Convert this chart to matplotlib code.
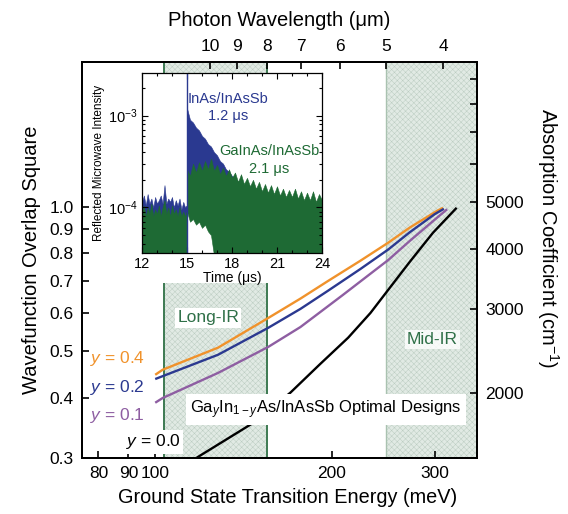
import matplotlib
matplotlib.use("Agg")
import matplotlib.pyplot as plt
import matplotlib.patches as mpatches
from matplotlib.ticker import FixedLocator, NullLocator, NullFormatter, LogLocator
import numpy as np

plt.rcParams.update({
    "font.family": "Liberation Sans",
    "mathtext.fontset": "custom",
    "mathtext.rm": "Liberation Sans",
    "mathtext.it": "Liberation Sans:italic",
    "mathtext.bf": "Liberation Sans:bold",
    "hatch.linewidth": 0.35,
    "axes.linewidth": 1.3,
})

HC = 1239.84  # meV * um

# ---- main panel data (energy in meV, overlap square) ----
E_y04 = [100, 103, 128, 156, 177, 197, 224, 250, 272, 303, 310]
V_y04 = [0.447, 0.458, 0.509, 0.587, 0.644, 0.700, 0.772, 0.842, 0.905, 0.981, 0.995]
E_y02 = [100, 128, 156, 177, 197, 224, 250, 272, 300, 311]
V_y02 = [0.438, 0.492, 0.560, 0.613, 0.668, 0.742, 0.815, 0.885, 0.965, 0.990]
E_y01 = [100, 103, 128, 156, 177, 209, 250, 272, 300, 315]
V_y01 = [0.391, 0.400, 0.451, 0.511, 0.562, 0.655, 0.775, 0.849, 0.940, 0.988]
E_y00 = [112, 118, 147, 170, 191, 213.5, 233, 250, 272, 298, 327]
V_y00 = [0.285, 0.301, 0.355, 0.410, 0.470, 0.534, 0.601, 0.672, 0.768, 0.883, 0.995]

curves = [
    ("0.4", E_y04, V_y04, "#f0922b"),
    ("0.2", E_y02, V_y02, "#2b3990"),
    ("0.1", E_y01, V_y01, "#8e5ea2"),
    ("0.0", E_y00, V_y00, "#000000"),
]

long_ir_um = (12, 8)
mid_ir_um = (5, 3.5)
lam_ticks = [10, 9, 8, 7, 6, 5, 4]
E_ticks = [80, 90, 100, 200, 300]
V_ticks = [0.3, 0.4, 0.5, 0.6, 0.7, 0.8, 0.9, 1.0]
abs_ticks = [2000, 3000, 4000, 5000]
abs_minor = [6000, 7000, 8000, 9000]
abs_scale = 4890.0

# ---- inset data: time-resolved microwave reflectance ----
trig_time = 15.0
t_pre = [12.0, 12.125, 12.25, 12.375, 12.5, 12.625, 12.75, 12.875, 13.0, 13.125,
         13.25, 13.375, 13.5, 13.625, 13.75, 13.875, 14.0, 14.125, 14.25, 14.375,
         14.5, 14.625, 14.75, 14.875, 14.97]
blue_pre = [1.15e-4, 1.35e-4, 1.05e-4, 1.4e-4, 1.1e-4, 1.25e-4, 1.0e-4, 1.3e-4, 1.1e-4, 1.2e-4,
            1.35e-4, 1.1e-4, 1.75e-4, 1.1e-4, 1.25e-4, 1.15e-4, 1.3e-4, 1.0e-4, 1.2e-4, 1.05e-4,
            1.25e-4, 0.95e-4, 1.15e-4, 1.0e-4, 1.05e-4]
green_pre = [0.9e-4, 1.05e-4, 0.8e-4, 1.0e-4, 0.85e-4, 1.1e-4, 0.8e-4, 0.95e-4, 0.85e-4, 1.05e-4,
             0.8e-4, 1.0e-4, 1.2e-4, 0.85e-4, 1.0e-4, 0.8e-4, 1.05e-4, 0.85e-4, 0.95e-4, 0.8e-4,
             1.0e-4, 0.8e-4, 0.9e-4, 0.8e-4, 0.9e-4]

t_post = [15.0, 15.2, 15.4, 15.6, 15.8, 16.0, 16.2, 16.4, 16.6, 16.8,
          17.0, 17.2, 17.4, 17.6, 17.8, 18.0, 18.2, 18.4, 18.6, 18.8,
          19.0, 19.2, 19.4, 19.6, 19.8, 20.0, 20.2, 20.4, 20.6, 20.8,
          21.0, 21.2, 21.4, 21.6, 21.8, 22.0, 22.2, 22.4, 22.6, 22.8,
          23.0, 23.2, 23.4, 23.6, 23.8, 24.0]
blue_post = [1.2e-3, 9.0e-4, 8.4e-4, 7.4e-4, 6.9e-4, 6.0e-4, 5.6e-4, 4.9e-4, 4.6e-4, 4.0e-4,
             3.7e-4, 3.2e-4, 3.0e-4, 2.6e-4, 2.45e-4, 2.2e-4, 2.1e-4, 1.9e-4, 1.85e-4, 1.7e-4,
             1.7e-4, 1.55e-4, 1.6e-4, 1.45e-4, 1.5e-4, 1.35e-4, 1.45e-4, 1.3e-4, 1.4e-4, 1.25e-4,
             1.35e-4, 1.2e-4, 1.35e-4, 1.15e-4, 1.3e-4, 1.2e-4, 1.3e-4, 1.1e-4, 1.25e-4, 1.15e-4,
             1.3e-4, 1.1e-4, 1.2e-4, 1.1e-4, 1.25e-4, 1.1e-4]
blue_post_low = [1.5e-4] * 9 + [3e-5] * 37
green_post = [2.6e-4, 2.2e-4, 3.0e-4, 2.4e-4, 3.1e-4, 2.5e-4, 3.2e-4, 2.6e-4, 3.4e-4, 2.5e-4,
              2.9e-4, 2.3e-4, 2.7e-4, 2.2e-4, 2.6e-4, 2.1e-4, 2.4e-4, 1.9e-4, 2.3e-4, 1.8e-4,
              2.1e-4, 1.7e-4, 2.0e-4, 1.6e-4, 1.9e-4, 1.5e-4, 1.8e-4, 1.45e-4, 1.75e-4, 1.4e-4,
              1.7e-4, 1.35e-4, 1.6e-4, 1.3e-4, 1.55e-4, 1.3e-4, 1.6e-4, 1.25e-4, 1.5e-4, 1.2e-4,
              1.45e-4, 1.2e-4, 1.5e-4, 1.15e-4, 1.4e-4, 1.2e-4]
green_post_low = [9e-5, 7e-5, 7.5e-5, 6.5e-5, 7e-5, 6e-5, 6.5e-5, 5.5e-5, 5e-5] + [3e-5] * 37

_BLUE_TR = "#2a3990"
_GREEN_TR = "#1e6a34"
_GREEN_TXT = "#2f7048"
_SHADE_FC = "#e1eae4"
_SHADE_HC = "#bccdc2"

fig = plt.figure(figsize=(5.68, 5.14), dpi=100)
ax = fig.add_axes([0.1444, 0.1089, 0.6954, 0.7704])
ax.set_xscale("log")
ax.set_yscale("log")
xlim = (75, HC / mid_ir_um[1])
ylim = (0.3, 2.0)
ax.set_xlim(*xlim)
ax.set_ylim(*ylim)

# shaded IR windows
lir = (HC / long_ir_um[0], HC / long_ir_um[1])
mir = (HC / mid_ir_um[0], HC / mid_ir_um[1])
ax.axvspan(*lir, facecolor=_SHADE_FC, edgecolor=_SHADE_HC, hatch="xxxxxx", lw=0, zorder=0.5)
ax.axvspan(*mir, facecolor=_SHADE_FC, edgecolor=_SHADE_HC, hatch="xxxxxx", lw=0, zorder=0.5)
for e in lir:
    ax.axvline(e, color="#3d7a52", lw=1.4, zorder=1)
ax.axvline(mir[0], color="#a9c2b0", lw=1.0, zorder=1)

# white backing for the inset (under the curves)
ax.add_patch(mpatches.Rectangle((0.167, 0.449), 0.417, 0.409, transform=fig.transFigure,
                                facecolor="white", edgecolor="none", zorder=1.5))

for lbl, E, V, col in curves:
    ax.plot(E, V, color=col, lw=1.7, zorder=2, solid_capstyle="butt")

# labels for the curves
ax.text(77.5, 0.484, "$y$ = 0.4", color="#f0922b", fontsize=12.5, ha="left", va="center", zorder=3)
ax.text(77.5, 0.420, "$y$ = 0.2", color="#2b3990", fontsize=12.5, ha="left", va="center", zorder=3)
ax.text(77.5, 0.368, "$y$ = 0.1", color="#8e5ea2", fontsize=12.5, ha="left", va="center", zorder=3)
ax.text(89.0, 0.324, "$y$ = 0.0", color="black", fontsize=12.5, ha="left", va="center", zorder=3,
        bbox=dict(facecolor="white", edgecolor="none", pad=2))
ax.text(123.2, 0.587, "Long-IR", color=_GREEN_TXT, fontsize=12.5, ha="center", va="center", zorder=3,
        bbox=dict(facecolor="white", edgecolor="none", pad=1.5))
ax.text(297, 0.529, "Mid-IR", color=_GREEN_TXT, fontsize=12.5, ha="center", va="center", zorder=3,
        bbox=dict(facecolor="white", edgecolor="none", pad=1.5, alpha=0.8))
ax.text(114.7, 0.378, r"Ga$_{y}$In$_{\mathrm{1-}y}$As/InAsSb Optimal Designs", color="black",
        fontsize=12, ha="left", va="center", zorder=3,
        bbox=dict(facecolor="white", edgecolor="none", pad=3))

ax.xaxis.set_major_locator(FixedLocator(E_ticks))
ax.xaxis.set_minor_locator(NullLocator())
ax.set_xticklabels([str(v) for v in E_ticks])
ax.yaxis.set_major_locator(FixedLocator(V_ticks))
ax.yaxis.set_minor_locator(NullLocator())
ax.set_yticklabels([f"{v:.1f}" for v in V_ticks])
ax.tick_params(direction="in", length=5, width=1.2, labelsize=12.5, pad=6)
ax.set_xlabel("Ground State Transition Energy (meV)", fontsize=14.3)
ax.xaxis.set_label_coords(0.52, -0.075)
ax.set_ylabel("Wavefunction Overlap Square", fontsize=14.5, labelpad=6)

# top axis: photon wavelength
ax_t = ax.twiny()
ax_t.set_xscale("log")
ax_t.set_xlim(*xlim)
ax_t.xaxis.set_major_locator(FixedLocator([HC / l for l in lam_ticks]))
ax_t.xaxis.set_minor_locator(NullLocator())
ax_t.set_xticklabels([str(l) for l in lam_ticks])
ax_t.tick_params(direction="in", length=5, width=1.2, labelsize=12.5, pad=6)
ax_t.set_xlabel("Photon Wavelength (\u03bcm)", fontsize=14.5, labelpad=9)

# right axis: absorption coefficient
ax_r = ax.twinx()
ax_r.set_yscale("log")
ax_r.set_ylim(ylim[0] * abs_scale, ylim[1] * abs_scale)
ax_r.yaxis.set_major_locator(FixedLocator(abs_ticks))
ax_r.yaxis.set_minor_locator(FixedLocator(abs_minor))
ax_r.yaxis.set_minor_formatter(NullFormatter())
ax_r.set_yticklabels([str(v) for v in abs_ticks])
ax_r.tick_params(which="both", direction="in", length=5, width=1.2, labelsize=12.5, pad=6)
ax_r.set_ylabel("Absorption Coefficient (cm$^{-1}$)", fontsize=14.5, rotation=270,
                va="center", ha="center")
ax_r.yaxis.set_label_coords(1.18, 0.555)

# ---- inset ----
ins = fig.add_axes([0.25, 0.5078, 0.3169, 0.3502])
ins.set_yscale("log")
ins_ylim = (3.2e-5, 2.9e-3)
ins.set_xlim(12, 24)
ins.set_ylim(*ins_ylim)
floor = ins_ylim[0] * 0.9

ins.fill_between(t_pre, floor, blue_pre, color=_BLUE_TR, lw=0.4, edgecolor=_BLUE_TR)
ins.fill_between(t_post, blue_post_low, blue_post, color=_BLUE_TR, lw=0.4, edgecolor=_BLUE_TR)
ins.axvline(trig_time, color=_BLUE_TR, lw=1.0)
ins.fill_between(t_pre, floor, green_pre, color=_GREEN_TR, lw=0.4, edgecolor=_GREEN_TR)
ins.fill_between(t_post, green_post_low, green_post, color=_GREEN_TR, lw=0.4, edgecolor=_GREEN_TR)

ins.text(17.75, 1.22e-3, "InAs/InAsSb\n1.2 \u03bcs", color=_BLUE_TR, fontsize=10.5,
         ha="center", va="center", linespacing=1.35)
ins.text(20.5, 3.3e-4, "GaInAs/InAsSb\n2.1 \u03bcs", color=_GREEN_TR, fontsize=10.5,
         ha="center", va="center", linespacing=1.35)

ins.set_xticks([12, 15, 18, 21, 24])
ins.xaxis.set_minor_locator(FixedLocator(list(range(12, 25))))
ins.yaxis.set_major_locator(FixedLocator([1e-4, 1e-3]))
ins.yaxis.set_minor_locator(LogLocator(base=10, subs=np.arange(2, 10)))
ins.yaxis.set_minor_formatter(NullFormatter())
ins.set_yticklabels(["$10^{-4}$", "$10^{-3}$"])
ins.tick_params(which="both", direction="in", top=True, right=True, width=0.8, labelsize=10.5, pad=3)
ins.tick_params(which="major", length=4)
ins.tick_params(which="minor", length=2)
for s in ins.spines.values():
    s.set_linewidth(0.9)
ins.set_xlabel("Time (\u03bcs)", fontsize=10, labelpad=0)
ins.set_ylabel("Reflected Microwave Intensity", fontsize=8.5, labelpad=2)

fig.savefig("out.png", dpi=100)
